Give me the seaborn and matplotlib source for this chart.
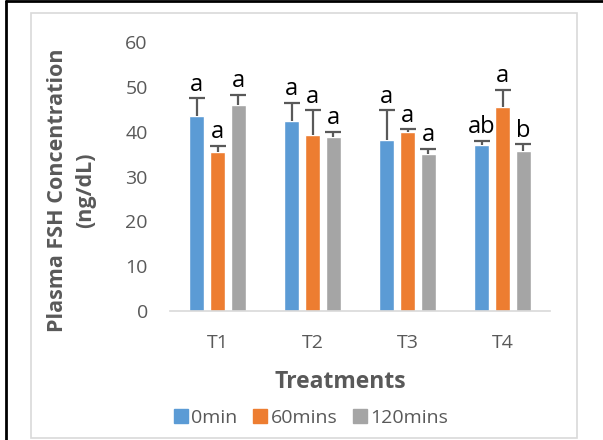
import matplotlib
matplotlib.use("Agg")
import matplotlib.pyplot as plt
import seaborn as sns
import pandas as pd
import numpy as np
from matplotlib.patches import Rectangle
from matplotlib.lines import Line2D

treatments = ["T1", "T2", "T3", "T4"]
times = ["0min", "60mins", "120mins"]
val_0min = [43.6, 42.4, 38.1, 37.0]
val_60mins = [35.4, 39.3, 39.9, 45.4]
val_120mins = [46.0, 38.7, 35.1, 35.6]
err_0min = [3.8, 4.0, 6.7, 1.0]
err_60mins = [1.4, 5.5, 0.6, 4.0]
err_120mins = [2.2, 1.2, 1.1, 1.6]
let_0min = ["a", "a", "a", "ab"]
let_60mins = ["a", "a", "a", "a"]
let_120mins = ["a", "a", "a", "b"]
colors = ["#5B9BD5", "#ED7D31", "#A5A5A5"]
yticks = [0, 10, 20, 30, 40, 50, 60]

vals = [val_0min, val_60mins, val_120mins]
errs = [err_0min, err_60mins, err_120mins]
lets = [let_0min, let_60mins, let_120mins]

rows = []
for t, v, e, l in zip(times, vals, errs, lets):
    for tr, vv, ee, ll in zip(treatments, v, e, l):
        rows.append({"Treatment": tr, "Time": t, "Value": vv, "Err": ee, "Letter": ll})
df = pd.DataFrame(rows)

sns.set_theme(style="white")
plt.rcParams['font.family'] = ['Open Sans', 'DejaVu Sans']
W, H = 603, 440
fig = plt.figure(figsize=(W / 100, H / 100), dpi=100)
ax = fig.add_axes([170 / W, 1 - 311 / H, 380 / W, 269 / H])

sns.barplot(data=df, x="Treatment", y="Value", hue="Time", order=treatments,
            hue_order=times, palette=colors, width=0.663, gap=0.24,
            errorbar=None, ax=ax, legend=False, saturation=1)

txtc = "#595959"
for ti, t in enumerate(times):
    cont = ax.containers[ti]
    sub = df[df.Time == t].set_index("Treatment").loc[treatments]
    xs = [p.get_x() + p.get_width() / 2 for p in cont.patches]
    ys = sub.Value.values
    es = sub.Err.values
    eb = ax.errorbar(xs, ys, yerr=[np.zeros_like(es), es], fmt="none",
                     ecolor=txtc, elinewidth=1.6, capsize=5.5, capthick=1.6)
    caps = eb[1]
    if len(caps) == 2:
        caps[0].set_visible(False)
    for x, y, e, l in zip(xs, ys, es, sub.Letter.values):
        ax.annotate(l, (x, y + e), xytext=(0, 5.5), textcoords="offset points",
                    ha="center", va="baseline", fontsize=17, color="black")

ax.set_xlim(-0.5, 3.5)
ax.set_ylim(0, 60)
ax.set_yticks(yticks)
ax.set_xlabel("")
ax.set_ylabel("")
for s in ["top", "right", "left"]:
    ax.spines[s].set_visible(False)
ax.spines["bottom"].set_color("#D9D9D9")
ax.spines["bottom"].set_linewidth(1.2)
ax.tick_params(axis="y", length=0, pad=16, labelsize=14, labelcolor=txtc)
ax.tick_params(axis="x", length=0, pad=16.5, labelsize=14, labelcolor=txtc)

fig.text(340 / W, 1 - 382 / H, "Treatments", ha="center", va="center",
         fontsize=16.5, fontweight="bold", color=txtc)
fig.text(72 / W, 1 - 190 / H, "Plasma FSH Concentration\n(ng/dL)", ha="center",
         va="center", rotation=90, fontsize=15.5, fontweight="bold", color=txtc,
         linespacing=1.45, multialignment="center")

handles = [Line2D([], [], marker="s", linestyle="none", markersize=10,
                  markerfacecolor=c, markeredgecolor=c) for c in colors]
fig.legend(handles, times, loc="center", bbox_to_anchor=(310 / W, 1 - 418 / H),
           ncol=3, frameon=False, fontsize=14, labelcolor=txtc,
           handletextpad=0.1, columnspacing=0.7, handlelength=0.9)

# borders
fig.patches.append(Rectangle((31 / W, 1 - 438 / H), (577 - 31) / W, (438 - 13) / H,
                             transform=fig.transFigure, fill=False,
                             edgecolor="#D9D9D9", linewidth=1.2))
fig.lines.append(Line2D([6 / W, 1], [1 - 1.5 / H, 1 - 1.5 / H],
                        transform=fig.transFigure, color="black", linewidth=2))
fig.lines.append(Line2D([6 / W, 6 / W], [0, 1 - 1.5 / H],
                        transform=fig.transFigure, color="black", linewidth=2))

fig.savefig("out.png", dpi=100)
